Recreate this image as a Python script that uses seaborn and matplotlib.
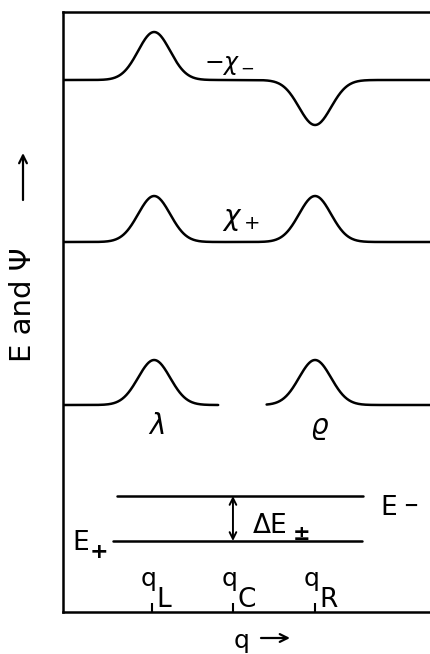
import numpy as np
import pandas as pd
import matplotlib.pyplot as plt
import seaborn as sns

# ************* DATA *****************
# q positions (q_C at 0, unit = q_R - q_C)
q_left_edge = -2.07
q_right_edge = 2.40
q_ticks = [-0.98, 0.0, 1.0]
q_tick_names = ["L", "C", "R"]

# localized states lambda (left) and rho (right)
centres = [-0.96, 1.0]
width = 0.195

# baselines of the three wavefunction rows and their amplitudes
baselines = [5.32, 3.70, 2.07]
amp_minus = [0.48, -0.45]   # -chi_-
amp_plus = [0.46, 0.46]     # chi_+
amp_loc = [0.45, 0.45]      # lambda, rho
gap = [-0.18, 0.41]         # break in the lowest row

# energy levels
E_minus = 1.16
E_plus = 0.71
E_minus_span = [-1.41, 1.59]
E_plus_span = [-1.46, 1.57]


def bump(q, c, a):
    return a * np.exp(-0.5 * ((q - c) / width) ** 2)


q = np.linspace(q_left_edge, q_right_edge, 600)
rows = []
y1 = baselines[0] + bump(q, centres[0], amp_minus[0]) + bump(q, centres[1], amp_minus[1])
rows.append(pd.DataFrame({"q": q, "psi": y1, "curve": "chi_minus"}))
y2 = baselines[1] + bump(q, centres[0], amp_plus[0]) + bump(q, centres[1], amp_plus[1])
rows.append(pd.DataFrame({"q": q, "psi": y2, "curve": "chi_plus"}))
ql = np.linspace(q_left_edge, gap[0], 300)
rows.append(pd.DataFrame({"q": ql, "psi": baselines[2] + bump(ql, centres[0], amp_loc[0]), "curve": "lambda"}))
qr = np.linspace(gap[1], q_right_edge, 300)
rows.append(pd.DataFrame({"q": qr, "psi": baselines[2] + bump(qr, centres[1], amp_loc[1]), "curve": "rho"}))
rows.append(pd.DataFrame({"q": E_minus_span, "psi": [E_minus, E_minus], "curve": "E_minus"}))
rows.append(pd.DataFrame({"q": E_plus_span, "psi": [E_plus, E_plus], "curve": "E_plus"}))
df = pd.concat(rows, ignore_index=True)

# ************* PLOT *****************
sns.set_style("white")
plt.rcParams['font.family'] = ['DejaVu Sans']
plt.rcParams['mathtext.fontset'] = 'dejavusans'
plt.rcParams['text.color'] = 'black'

fig = plt.figure(figsize=(4.3, 6.54), dpi=100)
ax = fig.add_axes([63 / 430, 42 / 654, 1 - 63 / 430, 600 / 654])

sns.lineplot(data=df, x="q", y="psi", units="curve", estimator=None,
             color="black", linewidth=1.8, sort=False, ax=ax, legend=False)

ax.set_xlim(q_left_edge, q_right_edge)
ax.set_ylim(0, 6.0)
for s in ["left", "top", "bottom"]:
    ax.spines[s].set_visible(True)
    ax.spines[s].set_color("black")
    ax.spines[s].set_linewidth(1.8)
ax.spines["right"].set_visible(False)
ax.set_xlabel("")
ax.set_ylabel("")
ax.set_yticks([])
ax.set_xticks(q_ticks)
ax.set_xticklabels([])
ax.tick_params(axis="x", direction="in", length=6.5, width=1.5, color="black", bottom=True)

# q labels inside the axes
for x, name in zip(q_ticks, q_tick_names):
    ax.text(x - 0.14, 0.26, "q", fontsize=18, ha="left", va="baseline")
    ax.text(x + 0.05, 0.05, name, fontsize=19, ha="left", va="baseline")

# wavefunction labels
ax.text(-0.04, 5.42, r"$-\chi_-$", fontsize=17, ha="center", va="baseline")
ax.text(0.1, 3.87, r"$\chi_+$", fontsize=20, ha="center", va="baseline")
ax.text(-0.93, 1.86, r"$\lambda$", fontsize=20, ha="center", va="center")
ax.text(1.05, 1.84, r"$\varrho$", fontsize=20, ha="center", va="center")

# energy labels
ax.text(1.79, 0.97, "E", fontsize=19, ha="left", va="baseline")
ax.text(2.16, 1.06, "\u2212", fontsize=13, fontweight="bold", ha="center", va="center")
ax.text(-1.96, 0.62, "E", fontsize=19, ha="left", va="baseline")
ax.text(-1.63, 0.60, "+", fontsize=16, fontweight="bold", ha="center", va="center")
ax.text(0.24, 0.79, "\u0394E", fontsize=19, ha="left", va="baseline")
ax.text(0.84, 0.78, "\u00b1", fontsize=15, fontweight="bold", ha="center", va="center")

# Delta E arrow
ax.annotate("", xy=(0, E_minus), xytext=(0, E_plus),
            arrowprops=dict(arrowstyle="<->", color="black", lw=1.4,
                            shrinkA=0, shrinkB=0, mutation_scale=12))

# axis labels
fig.text(23 / 430, 1 - 305 / 654, "E and \u03a8", fontsize=21, rotation=90,
         ha="center", va="center")
ax.annotate("", xy=(23, 654 - 153), xytext=(23, 654 - 200), xycoords="figure pixels",
            textcoords="figure pixels",
            arrowprops=dict(arrowstyle="->", color="black", lw=1.6, shrinkA=0, shrinkB=0,
                            mutation_scale=14))
fig.text(242 / 430, 1 - 648 / 654, "q", fontsize=18, ha="center", va="baseline")
ax.annotate("", xy=(290, 654 - 638), xytext=(261, 654 - 638), xycoords="figure pixels",
            textcoords="figure pixels",
            arrowprops=dict(arrowstyle="->", color="black", lw=1.6, shrinkA=0, shrinkB=0,
                            mutation_scale=14))

fig.savefig("out.png", dpi=100)
